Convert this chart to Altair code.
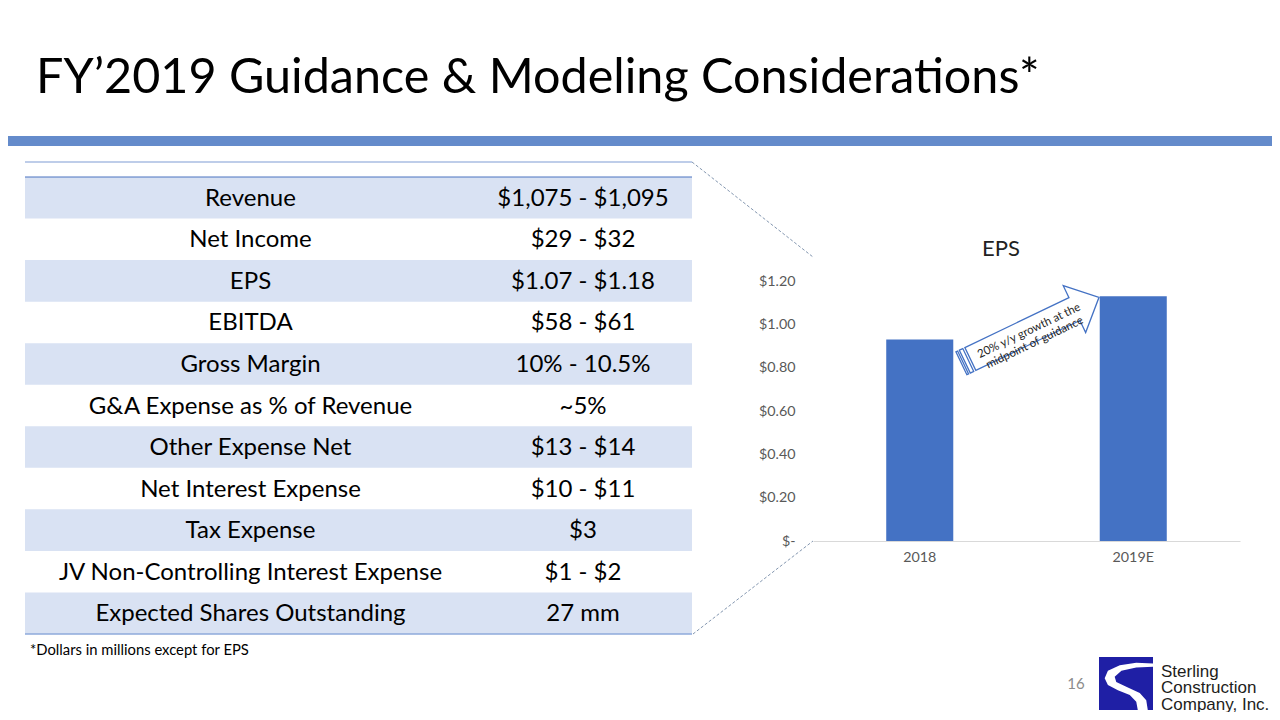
import altair as alt
import pandas as pd

# ---------------- data ----------------
slide_title = "FY\u20192019 Guidance & Modeling Considerations*"
metrics = [
    "Revenue", "Net Income", "EPS", "EBITDA", "Gross Margin",
    "G&A Expense as % of Revenue", "Other Expense Net", "Net Interest Expense",
    "Tax Expense", "JV Non-Controlling Interest Expense", "Expected Shares Outstanding",
]
guidance = [
    "$1,075 - $1,095", "$29 - $32", "$1.07 - $1.18", "$58 - $61", "10% - 10.5%",
    "~5%", "$13 - $14", "$10 - $11", "$3", "$1 - $2", "27 mm",
]
footnote = "*Dollars in millions except for EPS"
chart_title = "EPS"
years = ["2018", "2019E"]
eps = [0.93, 1.13]
eps_ticks = [0, 0.2, 0.4, 0.6, 0.8, 1.0, 1.2]
arrow_text = "20% y/y growth at the\nmidpoint of guidance"
page_number = "16"
logo_text = "Sterling\nConstruction\nCompany, Inc."

# ---------------- frames ----------------
one = pd.DataFrame({"k": [0]})
table_df = pd.DataFrame({"metric": metrics, "value": guidance, "row": list(range(len(metrics)))})
eps_df = pd.DataFrame({"year": years, "eps": eps})

FONT = "Lato"
W, H = 1264, 704


def rect(x, x2, y, y2, color):
    return alt.Chart(one).mark_rect(color=color).encode(
        x=alt.value(x), x2=alt.value(x2), y=alt.value(y), y2=alt.value(y2))


def rule(x, y, x2, y2, color, width=1.0, dash=None):
    kw = dict(color=color, strokeWidth=width)
    if dash:
        kw["strokeDash"] = dash
    return alt.Chart(one).mark_rule(**kw).encode(
        x=alt.value(x), y=alt.value(y), x2=alt.value(x2), y2=alt.value(y2))


def text(txt, x, y, **kw):
    return alt.Chart(one).mark_text(text=txt, lineBreak="\n", **kw).encode(
        x=alt.value(x), y=alt.value(y))


# ---------------- slide decorations ----------------
title = text(slide_title, 28, 85, font=FONT, fontSize=48.5, align="left",
             baseline="alphabetic", color="#000000")
band = rect(0, W, 128, 138, "#648bcb")

# ---------------- table ----------------
row_scale = alt.Scale(domain=metrics, range=[169, 626], paddingInner=0, paddingOuter=0)
row_y = alt.Y("metric:N", sort=metrics, scale=row_scale, axis=None)

table_bg = alt.Chart(table_df).transform_filter("datum.row % 2 == 0").mark_rect(
    color="#d9e2f3").encode(y=row_y, x=alt.value(17), x2=alt.value(684))
table_col1 = alt.Chart(table_df).mark_text(
    font=FONT, fontSize=24, align="center", baseline="middle", color="#000000", dy=1
).encode(y=row_y, x=alt.value(242.5), text="metric:N")
table_col2 = alt.Chart(table_df).mark_text(
    font=FONT, fontSize=24, align="center", baseline="middle", color="#000000", dy=1
).encode(y=row_y, x=alt.value(575), text="value:N")

top_line = rule(17, 154, 684, 154, "#a9bde2", 1.5)
head_line = rule(17, 169, 684, 169, "#4a72c0", 1.0)
bottom_line = rule(17, 626, 684, 626, "#8eaadb", 1.5)
conn_top = rule(684, 154, 805, 249, "#8497b0", 1.0, [3, 2])
conn_bot = rule(685, 626, 805, 533, "#8497b0", 1.0, [3, 2])
note = text(footnote, 22, 643, font=FONT, fontSize=14.8, align="left",
            baseline="middle", color="#000000")

# ---------------- EPS bar chart ----------------
x_enc = alt.X(
    "year:N", sort=years,
    scale=alt.Scale(domain=years, range=[805, 1232], paddingInner=0.686, paddingOuter=0.343),
    axis=alt.Axis(orient="bottom", offset=533 - H, ticks=False, tickSize=0, domain=True,
                  domainColor="#d9d9d9", domainWidth=1, grid=False, labelAngle=0,
                  labelPadding=9, labelFont=FONT, labelFontSize=14.3,
                  labelColor="#595959", title=None),
)
y_enc = alt.Y(
    "eps:Q",
    scale=alt.Scale(domain=[0, 1.2], range=[533, 273], nice=False, zero=True),
    axis=alt.Axis(orient="left", offset=-787, ticks=False, tickSize=0, domain=False,
                  grid=False, labelPadding=0, values=eps_ticks,
                  labelExpr="datum.value == 0 ? '$-' : '$' + format(datum.value, '.2f')",
                  labelFont=FONT, labelFontSize=14.3, labelColor="#595959", title=None),
)
bars = alt.Chart(eps_df).mark_bar(color="#4472c4").encode(x=x_enc, y=y_enc)
eps_title = text(chart_title, 993, 241, font=FONT, fontSize=22, align="center",
                 baseline="middle", color="#222222")

ARROW_PATH = (
    "M-1,-0.166 L-0.975,-0.166 L-0.975,0.166 L-1,0.166 Z "
    "M-0.95,-0.166 L-0.9,-0.166 L-0.9,0.166 L-0.95,0.166 Z "
    "M-0.87,-0.166 L0.643,-0.166 L0.643,-0.34 L1,0 L0.643,0.34 L0.643,0.166 L-0.87,0.166 Z"
)
arrow = alt.Chart(one).mark_point(
    shape=ARROW_PATH, filled=True, fill="#ffffff", stroke="#4472c4", strokeWidth=1.3,
    opacity=1, size=152.6 ** 2, angle=334.4,
).encode(x=alt.value(1022.2), y=alt.value(322.3))
arrow_label = text(arrow_text, 1021.2, 323.2, font=FONT, fontSize=11.5, align="center",
                   baseline="middle", angle=334.4, lineHeight=13, color="#262626")

# ---------------- footer / logo ----------------
pnum = text(page_number, 1068, 676, font=FONT, fontSize=15, align="center",
            baseline="middle", color="#8c8c8c")
logo_box = rect(1091, 1145, 649, 702, "#1f1fa5")
S_PATH = (
    "M1,-0.74 L0.38,-0.77 L-0.23,-0.68 L-0.67,-0.47 L-0.79,-0.19 L-0.67,0.06 "
    "L-0.3,0.25 L0.14,0.43 L0.38,0.68 L0.44,1 L0.81,1 L0.75,0.62 L0.51,0.35 "
    "L0.01,0.12 L-0.36,-0.06 L-0.42,-0.25 L-0.17,-0.47 L0.38,-0.59 L1,-0.62 Z"
)
logo_s = alt.Chart(one).mark_point(
    shape=S_PATH, filled=True, fill="#ffffff", strokeWidth=0, opacity=1, size=54 ** 2,
).encode(x=alt.value(1118), y=alt.value(675.5))
logo_words = text(logo_text, 1153, 668.5, font="Liberation Sans", fontSize=17,
                  align="left", baseline="alphabetic", lineHeight=16.5, color="#1d1d1b")

chart = alt.layer(
    band, title,
    table_bg, top_line, head_line, bottom_line, table_col1, table_col2,
    conn_top, conn_bot, note,
    bars, eps_title, arrow, arrow_label,
    pnum, logo_box, logo_s, logo_words,
).resolve_scale(x="independent", y="independent").properties(
    width=W, height=H, padding=0, background="#ffffff",
    autosize=alt.AutoSizeParams(type="none"),
).configure_view(strokeWidth=0)

chart.save("out.html", embed_options={"renderer": "svg", "actions": False})
